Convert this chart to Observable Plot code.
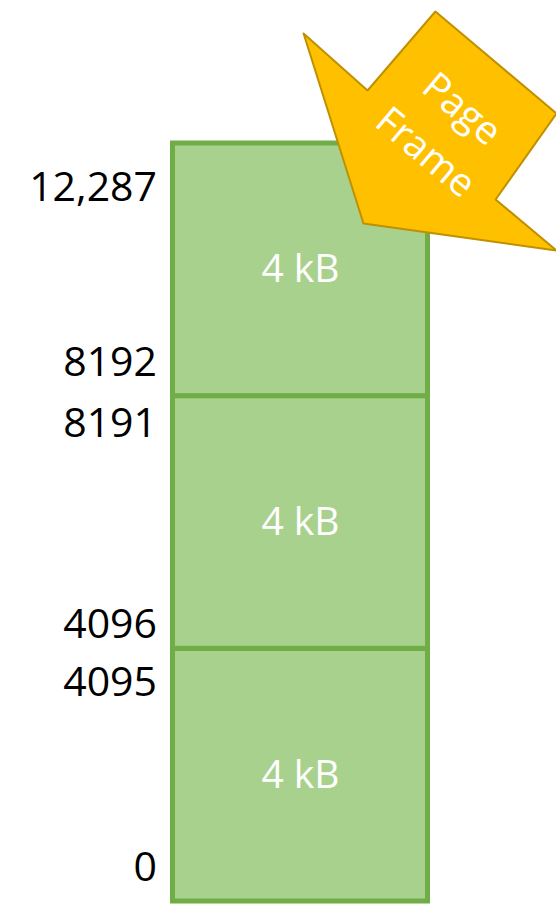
<!DOCTYPE html>
<html>
<head>
<meta charset="utf-8">
<script src="https://cdn.jsdelivr.net/npm/d3@7"></script>
<script src="https://cdn.jsdelivr.net/npm/@observablehq/plot@0.6"></script>
<style>
  html, body { margin: 0; padding: 0; background: #fff; }
  #chart svg { display: block; overflow: hidden; }
</style>
</head>
<body>
<div id="chart"></div>
<script>
// Page frames (byte addresses)
const frameStarts = [0, 4096, 8192];
const frameSize = 4096;
const frameLabels = ["4 kB", "4 kB", "4 kB"];

// Address labels: first byte of each frame, last byte of each frame
const lowValues = [0, 4096, 8192];
const lowLabels = ["0", "4096", "8192"];
const highValues = [4095, 8191, 12287];
const highLabels = ["4095", "8191", "12,287"];

// Callout arrow outline (in chart units: x = fraction of column width, y = address)
const arrowX = [0.512, 0.763, 1.029, 1.504, 1.265, 1.504, 0.747, 0.512];
const arrowY = [14071, 13147, 14428, 12774, 11380, 10553, 10991, 14071];
const arrowText = "Page\nFrame";
const arrowTextX = 1.075;
const arrowTextY = 12560;

const frames = frameStarts.map((s, i) => ({lo: s, hi: s + frameSize, mid: s + frameSize / 2, label: frameLabels[i]}));
const lows = lowValues.map((v, i) => ({v, label: lowLabels[i]}));
const highs = highValues.map((v, i) => ({v, label: highLabels[i]}));
const arrow = arrowX.map((x, i) => ({x, y: arrowY[i]}));

// vertical label offsets (px) from the frame boundary
const lowDy = [-34, -24, -33];
const highDy = [34, 28, 44];

const font = "'Open Sans', 'Noto Sans', sans-serif";

const chart = Plot.plot({
  width: 556,
  height: 904,
  margin: 0,
  style: {fontFamily: font, background: "#fff"},
  x: {domain: [0, 1], range: [172.5, 427.5], axis: null},
  y: {domain: [0, 12288], range: [901, 143], axis: null},
  marks: [
    Plot.rect(frames, {x1: 0, x2: 1, y1: "lo", y2: "hi", fill: "#A9D18E", stroke: "#70AD47", strokeWidth: 5}),
    Plot.text(frames, {x: 0.5, y: "mid", text: "label", fill: "#fff", fontSize: 39}),
    ...lows.map((d, i) => Plot.text([d], {x: 0, y: "v", text: "label", textAnchor: "end", dx: -16, dy: lowDy[i], fill: "#000", fontSize: 41})),
    ...highs.map((d, i) => Plot.text([d], {x: 0, y: "v", text: "label", textAnchor: "end", dx: -16, dy: highDy[i], fill: "#000", fontSize: 41})),
    Plot.line(arrow, {x: "x", y: "y", fill: "#FFC000", stroke: "#BF9000", strokeWidth: 2, strokeLinejoin: "miter"}),
    Plot.text([arrowText], {x: arrowTextX, y: arrowTextY, text: d => d, rotate: 40, fill: "#fff", fontSize: 39, lineHeight: 1.45})
  ]
});

document.getElementById("chart").appendChild(chart);
</script>
</body>
</html>
